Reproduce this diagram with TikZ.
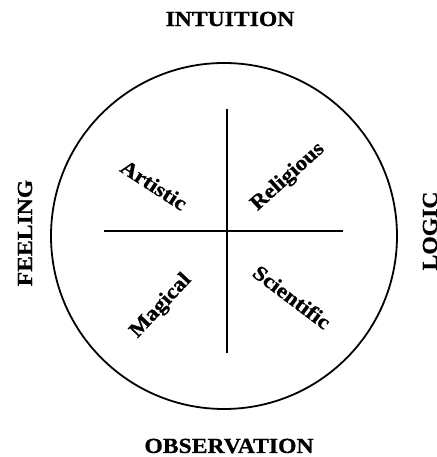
\documentclass[tikz,border=0pt]{standalone}
\usepackage{fontspec}
\newfontfamily\diagfont[FakeStretch=1.1, BoldFeatures={FakeBold=0.8}]{Liberation Serif}
\usepackage{tikz}
\usetikzlibrary{positioning,calc}
\tikzset{
  axislabel/.style={font=\diagfont\bfseries\fontsize{21.5}{23}\selectfont, inner sep=0pt},
  typelabel/.style={font=\diagfont\bfseries\fontsize{21}{23}\selectfont, inner sep=0pt},
}

\begin{document}
\begin{tikzpicture}[x=1pt,y=1pt]
            \useasboundingbox (0,0) rectangle (436,457);
            % outer circle and the two axes
            \node[draw, circle, line width=1.8pt, minimum size=346pt, inner sep=0pt] (wheel) at (224,221) {};
            \coordinate (vtop) at (227,348);
            \coordinate (vbot) at (227,104);
            \coordinate (hleft) at (104,226);
            \coordinate (hright) at (343,226);
            \draw[line width=1.7pt] (vtop) -- (vbot);
            \draw[line width=2.6pt] (hleft) -- (hright);
            % the four poles
            \node[axislabel] (intuition) at (230,438) {INTUITION};
            \node[axislabel] (observation) at (229,11) {OBSERVATION};
            \node[axislabel, rotate=90] (feeling) at (25,224) {FEELING};
            \node[axislabel, rotate=90] (logic) at (430,226) {LOGIC};
            % the quadrants
            \node[typelabel, rotate=-33] (artistic) at (154,272) {Artistic};
            \node[typelabel, rotate=42] (religious) at (288,280) {Religious};
            \node[typelabel, rotate=47] (magical) at (161,151) {Magical};
            \node[typelabel, rotate=-37] (scientific) at (292,160) {Scientific};
        \end{tikzpicture}
\end{document}
